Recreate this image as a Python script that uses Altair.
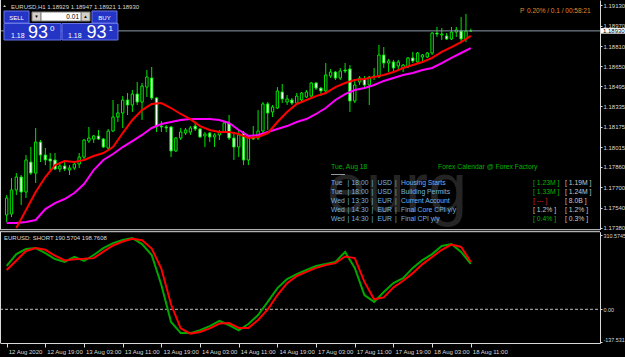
import altair as alt
import numpy as np
import pandas as pd

# ---------------- data ----------------
BARS = list(range(97))  # H1 bars, 0 = 12 Aug 2020 11:00 ... 96 = 18 Aug 11:00
OPEN = [1.17481, 1.17489, 1.17678, 1.17780, 1.17662, 1.17898, 1.17811, 1.18055, 1.17953, 1.17922,
        1.17914, 1.17843, 1.17867, 1.17835, 1.17851, 1.17882, 1.17937, 1.18063, 1.18079, 1.18103,
        1.18079, 1.18008, 1.18142, 1.18252, 1.18284, 1.18386, 1.18347, 1.18433, 1.18370, 1.18488,
        1.18559, 1.18402, 1.18181, 1.18174, 1.18174, 1.17985, 1.18087, 1.18126, 1.18134, 1.18181,
        1.18158, 1.18103, 1.18126, 1.18095, 1.18111, 1.18134, 1.18205, 1.18087, 1.18016, 1.18126,
        1.17914, 1.18095, 1.18087, 1.18142, 1.18355, 1.18292, 1.18323, 1.18449, 1.18370, 1.18386,
        1.18362, 1.18386, 1.18410, 1.18417, 1.18520, 1.18480, 1.18457, 1.18575, 1.18606, 1.18559,
        1.18622, 1.18630, 1.18378, 1.18528, 1.18551, 1.18504, 1.18567, 1.18567, 1.18740, 1.18677,
        1.18685, 1.18654, 1.18638, 1.18646, 1.18717, 1.18685, 1.18724, 1.18724, 1.18756, 1.18913,
        1.18898, 1.18890, 1.18866, 1.18921, 1.18929, 1.18866, 1.18929]
HIGH = [1.17638, 1.17772, 1.17811, 1.17796, 1.17953, 1.18016, 1.18166, 1.18071, 1.18008, 1.17969,
        1.17969, 1.17898, 1.17898, 1.17874, 1.17906, 1.17969, 1.18079, 1.18174, 1.18111, 1.18150,
        1.18087, 1.18158, 1.18386, 1.18355, 1.18417, 1.18441, 1.18465, 1.18528, 1.18520, 1.18622,
        1.18646, 1.18410, 1.18221, 1.18189, 1.18181, 1.18095, 1.18166, 1.18166, 1.18181, 1.18205,
        1.18166, 1.18134, 1.18134, 1.18126, 1.18150, 1.18221, 1.18268, 1.18134, 1.18150, 1.18142,
        1.18103, 1.18181, 1.18307, 1.18370, 1.18370, 1.18347, 1.18488, 1.18512, 1.18425, 1.18402,
        1.18441, 1.18449, 1.18465, 1.18528, 1.18528, 1.18488, 1.18677, 1.18630, 1.18614, 1.18638,
        1.18677, 1.18661, 1.18551, 1.18575, 1.18575, 1.18575, 1.18638, 1.18819, 1.18803, 1.18709,
        1.18701, 1.18701, 1.18669, 1.18724, 1.18764, 1.18764, 1.18748, 1.18764, 1.18921, 1.18961,
        1.18953, 1.18913, 1.18961, 1.18961, 1.19039, 1.19063, 1.18947]
LOW = [1.17426, 1.17465, 1.17638, 1.17560, 1.17615, 1.17796, 1.17733, 1.17898, 1.17874, 1.17835,
       1.17835, 1.17819, 1.17827, 1.17796, 1.17835, 1.17851, 1.17922, 1.18048, 1.18048, 1.18071,
       1.18008, 1.18000, 1.18134, 1.18213, 1.18166, 1.18268, 1.18292, 1.18347, 1.18229, 1.18410,
       1.18386, 1.18134, 1.18134, 1.18134, 1.17937, 1.17977, 1.18071, 1.18111, 1.18111, 1.18142,
       1.18087, 1.18016, 1.18055, 1.18016, 1.18071, 1.18126, 1.18071, 1.17914, 1.17937, 1.17874,
       1.17874, 1.18071, 1.18071, 1.18126, 1.18150, 1.18252, 1.18315, 1.18362, 1.18347, 1.18347,
       1.18347, 1.18370, 1.18402, 1.18410, 1.18465, 1.18417, 1.18449, 1.18559, 1.18543, 1.18543,
       1.18598, 1.18292, 1.18362, 1.18504, 1.18480, 1.18347, 1.18543, 1.18559, 1.18638, 1.18606,
       1.18606, 1.18622, 1.18606, 1.18638, 1.18677, 1.18677, 1.18685, 1.18717, 1.18740, 1.18882,
       1.18858, 1.18858, 1.18858, 1.18882, 1.18842, 1.18842, 1.18921]
CLOSE = [1.17615, 1.17678, 1.17780, 1.17662, 1.17914, 1.17811, 1.18055, 1.17953, 1.17914, 1.17906,
         1.17843, 1.17867, 1.17843, 1.17851, 1.17882, 1.17937, 1.18071, 1.18087, 1.18103, 1.18079,
         1.18016, 1.18142, 1.18252, 1.18284, 1.18386, 1.18347, 1.18433, 1.18370, 1.18496, 1.18567,
         1.18402, 1.18174, 1.18174, 1.18166, 1.17985, 1.18087, 1.18134, 1.18150, 1.18166, 1.18158,
         1.18095, 1.18118, 1.18095, 1.18111, 1.18134, 1.18205, 1.18087, 1.18016, 1.18111, 1.17914,
         1.18095, 1.18079, 1.18142, 1.18355, 1.18284, 1.18331, 1.18457, 1.18394, 1.18394, 1.18362,
         1.18417, 1.18441, 1.18449, 1.18520, 1.18480, 1.18457, 1.18583, 1.18606, 1.18559, 1.18614,
         1.18614, 1.18378, 1.18504, 1.18559, 1.18504, 1.18567, 1.18575, 1.18740, 1.18677, 1.18693,
         1.18638, 1.18685, 1.18661, 1.18717, 1.18693, 1.18756, 1.18740, 1.18756, 1.18913, 1.18905,
         1.18905, 1.18866, 1.18921, 1.18937, 1.18866, 1.18929, 1.18930]

MA_RED_BARS = list(range(2, 97, 2))
MA_RED = [1.17379, 1.17520, 1.17662, 1.17780, 1.17874, 1.17906, 1.17898, 1.17914, 1.17945, 1.17969,
          1.18016, 1.18126, 1.18229, 1.18307, 1.18355, 1.18362, 1.18323, 1.18276, 1.18236, 1.18181,
          1.18150, 1.18134, 1.18134, 1.18118, 1.18087, 1.18095, 1.18126, 1.18213, 1.18292, 1.18355,
          1.18386, 1.18417, 1.18441, 1.18488, 1.18520, 1.18543, 1.18551, 1.18567, 1.18583, 1.18606,
          1.18638, 1.18661, 1.18685, 1.18717, 1.18764, 1.18803, 1.18842, 1.18890]
MA_MAG_BARS = list(range(0, 97, 2))
MA_MAG = [1.17418, 1.17418, 1.17426, 1.17442, 1.17528, 1.17575, 1.17607, 1.17654, 1.17725, 1.17835,
          1.17914, 1.17961, 1.18016, 1.18063, 1.18111, 1.18166, 1.18197, 1.18213, 1.18229, 1.18236,
          1.18236, 1.18236, 1.18229, 1.18205, 1.18150, 1.18103, 1.18111, 1.18134, 1.18158, 1.18181,
          1.18213, 1.18236, 1.18276, 1.18323, 1.18386, 1.18433, 1.18465, 1.18480, 1.18504, 1.18536,
          1.18559, 1.18583, 1.18598, 1.18622, 1.18638, 1.18677, 1.18717, 1.18756, 1.18795]

OSC_BARS = list(range(0, 97, 2))
OSC_GREEN = [182, 232, 253, 257, 236, 211, 199, 220, 203, 228, 257, 278, 291, 299, 274, 228, 102, -53,
             -100, -100, -88, -71, -49, -66, -88, -62, -24, 31, 89, 127, 148, 165, 182, 190, 199, 241,
             174, 60, 31, 73, 110, 131, 174, 207, 232, 266, 274, 241, 190.5704]
OSC_RED = [165, 205, 245, 257, 250, 225, 205, 210, 212, 215, 242, 268, 285, 296, 290, 255, 170, 20,
           -80, -102, -95, -80, -60, -58, -78, -78, -45, 0, 60, 110, 140, 157, 174, 186, 194, 222,
           215, 115, 42, 50, 92, 120, 152, 190, 220, 250, 272, 262, 198.7608]

TIME_TICKS = list(range(0, 97, 8))
TIME_LABELS = ['12 Aug 2020', '12 Aug 19:00', '13 Aug 03:00', '13 Aug 11:00', '13 Aug 19:00',
               '14 Aug 03:00', '14 Aug 11:00', '14 Aug 19:00', '17 Aug 03:00', '17 Aug 11:00',
               '17 Aug 19:00', '18 Aug 03:00', '18 Aug 11:00']
PRICE_TICKS = [1.19130, 1.18970, 1.18810, 1.18650, 1.18495, 1.18335, 1.18175, 1.18015, 1.17860,
               1.17700, 1.17540, 1.17380]
OSC_TICKS = [310.5745, 0.0, -137.531]
BID = 1.18930

HEADER = 'EURUSD,H1  1.18929 1.18947 1.18921 1.18930'
OSC_TITLE = 'EURUSD: SHORT 190.5704 198.7608'
STATUS = '0.20% / 0.1 / 00:58:21'
LOT = '0.01'

CAL_TITLE = 'Tue, Aug 18'
CAL_SOURCE = 'Forex Calendar @ Forex Factory'
CAL_DAY = ['Tue', 'Tue', 'Wed', 'Wed', 'Wed']
CAL_TIME = ['18:00', '18:00', '13:30', '14:30', '14:30']
CAL_CUR = ['USD', 'USD', 'EUR', 'EUR', 'EUR']
CAL_EVENT = ['Housing Starts', 'Building Permits', 'Current Account', 'Final Core CPI y/y', 'Final CPI y/y']
CAL_FCST = ['[ 1.23M ]', '[ 1.33M ]', '[ --- ]', '[ 1.2% ]', '[ 0.4% ]']
CAL_FCST_STATE = ['up', 'up', 'down', 'same', 'up']
CAL_PREV = ['[ 1.19M ]', '[ 1.24M ]', '[ 8.0B ]', '[ 1.2% ]', '[ 0.3% ]']

# ---------------- styles ----------------
F = 'Liberation Sans'
AX = '#d9d9d9'
GREEN = '#00e600'
W, H = 600, 343

x_scale = alt.Scale(domain=[-0.346, 121.69], nice=False, zero=False)
p_scale = alt.Scale(domain=[1.17367, 1.19173], range=[229.5, 0], nice=False, zero=False)
o_scale = alt.Scale(domain=[-141.5, 326.0], range=[343, 231.7], nice=False, zero=False)

time_expr = '[' + ','.join("'%s'" % t for t in TIME_LABELS) + '][round(datum.value / 8)]'
x_axis = alt.Axis(values=TIME_TICKS, labelExpr=time_expr, orient='bottom', title=None, grid=False,
                  labelAlign='left', labelBaseline='top', labelFont=F, labelFontSize=6,
                  labelColor=AX, labelPadding=1, labelOffset=1.5, labelFlush=False,
                  labelOverlap=False, tickColor=AX, tickSize=4, domainColor=AX)
p_axis = alt.Axis(values=PRICE_TICKS, format='.5f', orient='right', title=None, grid=False,
                  labelFont=F, labelFontSize=6, labelColor=AX, labelPadding=1, labelFlush=False,
                  labelOverlap=False, tickColor=AX, tickSize=2, domainColor=AX)
o_axis = alt.Axis(values=OSC_TICKS, orient='right', title=None, grid=False,
                  labelExpr="datum.value == 0 ? '0.00' : toString(datum.value)",
                  labelBaseline={'condition': {'test': 'datum.value < 0', 'value': 'bottom'},
                                 'value': 'middle'},
                  labelFont=F, labelFontSize=5.4, labelColor=AX, labelPadding=1, labelFlush=False,
                  labelOverlap=False, tickColor=AX, tickSize=2, domainColor=AX)

XE = alt.X('bar:Q', scale=x_scale, axis=x_axis)
one = pd.DataFrame({'k': [0]})


def rect(x1, y1, x2, y2, fill, stroke=None, sw=1.0):
    kw = dict(fill=fill)
    if stroke:
        kw.update(stroke=stroke, strokeWidth=sw)
    else:
        kw.update(strokeWidth=0)
    return alt.Chart(one).mark_rect(**kw).encode(
        x=alt.value(x1), x2=alt.value(x2), y=alt.value(y1), y2=alt.value(y2))


def txt(s, x, y, size, color, align='left', baseline='middle', weight='normal'):
    return alt.Chart(one).mark_text(text=s, align=align, baseline=baseline, font=F,
                                    fontSize=size, color=color, fontWeight=weight).encode(
        x=alt.value(x), y=alt.value(y))


def hline(x1, x2, y, color, sw=1.0):
    return alt.Chart(one).mark_rule(color=color, strokeWidth=sw).encode(
        x=alt.value(x1), x2=alt.value(x2), y=alt.value(y))


def vline(x, y1, y2, color, sw=1.0):
    return alt.Chart(one).mark_rule(color=color, strokeWidth=sw).encode(
        x=alt.value(x), y=alt.value(y1), y2=alt.value(y2))


layers = []

# watermark behind everything
layers.append(txt('eurg', 327, 212, 70, '#242424', baseline='alphabetic'))

# ---- price panel ----
cdf = pd.DataFrame({'bar': BARS, 'open': OPEN, 'high': HIGH, 'low': LOW, 'close': CLOSE})
cdf['top'] = cdf[['open', 'close']].max(axis=1)
cdf['bot'] = cdf[['open', 'close']].min(axis=1)
cdf['fill'] = np.where(cdf['close'] >= cdf['open'], 'black', 'white')

layers.append(alt.Chart(cdf).mark_rule(color=GREEN, strokeWidth=1).encode(
    x=XE, y=alt.Y('high:Q', scale=p_scale, axis=p_axis), y2='low:Q'))
layers.append(alt.Chart(cdf).mark_bar(size=2.4, stroke=GREEN, strokeWidth=1).encode(
    x=XE, y=alt.Y('top:Q', scale=p_scale, axis=None), y2='bot:Q',
    fill=alt.Fill('fill:N', scale=None)))

rdf = pd.DataFrame({'bar': MA_RED_BARS, 'v': MA_RED})
mdf = pd.DataFrame({'bar': MA_MAG_BARS, 'v': MA_MAG})
layers.append(alt.Chart(mdf).mark_line(color='#ff00ff', strokeWidth=2).encode(
    x=XE, y=alt.Y('v:Q', scale=p_scale, axis=None)))
layers.append(alt.Chart(rdf).mark_line(color='#ff0000', strokeWidth=2).encode(
    x=XE, y=alt.Y('v:Q', scale=p_scale, axis=None)))

cur = pd.DataFrame({'p': [BID], 'lo': [BID - 0.00022], 'hi': [BID + 0.00022]})
layers.append(alt.Chart(cur).mark_rule(color='#8c9aac', strokeWidth=1).encode(
    x=alt.value(0), x2=alt.value(W), y=alt.Y('p:Q', scale=p_scale, axis=None)))

# ---- oscillator panel ----
odf = pd.DataFrame({'bar': OSC_BARS, 'g': OSC_GREEN, 'r': OSC_RED})
zero = pd.DataFrame({'v': [0.0]})
layers.append(alt.Chart(zero).mark_rule(color='#bfbfbf', strokeWidth=1, strokeDash=[3, 2]).encode(
    x=alt.value(0), x2=alt.value(W), y=alt.Y('v:Q', scale=o_scale, axis=None)))
layers.append(alt.Chart(odf).mark_line(color='#00a800', strokeWidth=2).encode(
    x=XE, y=alt.Y('g:Q', scale=o_scale, axis=o_axis)))
layers.append(alt.Chart(odf).mark_line(color='#ff0000', strokeWidth=2).encode(
    x=XE, y=alt.Y('r:Q', scale=o_scale, axis=None)))

# frames
layers.append(vline(0.5, 0, 229.7, AX))
layers.append(vline(0.5, 231.7, H, AX))
layers.append(hline(0, W, 229.7, AX))
layers.append(hline(0, W, 231.7, AX))

# current price box on the right axis
layers.append(alt.Chart(cur).mark_rect(fill='white').encode(
    x=alt.value(601), x2=alt.value(625), y=alt.Y('hi:Q', scale=p_scale, axis=None), y2='lo:Q'))
layers.append(alt.Chart(cur).mark_text(font=F, fontSize=6, color='black', align='left').encode(
    x=alt.value(603), y=alt.Y('p:Q', scale=p_scale, axis=None), text=alt.Text('p:Q', format='.5f')))

# ---- texts ----
layers.append(txt('\u25b2', 2.5, 6, 4, AX))
layers.append(txt(HEADER, 11, 6.5, 6, AX))
layers.append(txt('P', 520, 11, 6.5, '#e08a2a'))
layers.append(txt(STATUS, 527, 11, 6.5, '#e08a2a'))
layers.append(txt(OSC_TITLE, 4, 237.5, 6, AX))

# one-click trading panel
BLUE = '#2434c4'
BLUE_EDGE = '#6674e6'
layers.append(rect(4, 11, 29, 23, BLUE, BLUE_EDGE))
layers.append(rect(92, 11, 117, 23, BLUE, BLUE_EDGE))
layers.append(rect(32, 12, 41, 21, '#d4d0c8', '#808080'))
layers.append(rect(81, 12, 90, 21, '#d4d0c8', '#808080'))
layers.append(rect(41, 12, 81, 21, 'white', '#808080'))
layers.append(rect(4, 23.5, 61, 40, BLUE, BLUE_EDGE))
layers.append(rect(62, 23.5, 118, 40, BLUE, BLUE_EDGE))
layers.append(txt('SELL', 16.5, 17.5, 6, 'white', align='center'))
layers.append(txt('BUY', 104.5, 17.5, 6, 'white', align='center'))
layers.append(txt('\u25bc', 36.5, 16.8, 4.5, 'black', align='center'))
layers.append(txt('\u25b2', 85.5, 16.5, 4.5, 'black', align='center'))
layers.append(txt(LOT, 79, 16.8, 6.5, 'black', align='right'))
layers.append(txt('1.18', 11, 37.5, 7, 'white', baseline='alphabetic'))
layers.append(txt('93', 28, 38.3, 18, 'white', baseline='alphabetic'))
layers.append(txt('0', 50, 30.5, 8, 'white', baseline='alphabetic'))
layers.append(txt('1.18', 68, 37.5, 7, 'white', baseline='alphabetic'))
layers.append(txt('93', 86.5, 38.3, 18, 'white', baseline='alphabetic'))
layers.append(txt('1', 108.5, 30.5, 8, 'white', baseline='alphabetic'))

# calendar overlay
CAL_GREEN = '#00b400'
CAL_BLUE = '#6fb3e8'
CAL_GRAY = '#c8c8c8'
STATE_COL = {'up': '#00b400', 'down': '#e02020', 'same': '#c8c8c8'}
layers.append(txt(CAL_TITLE, 331, 167.3, 6.8, CAL_GREEN))
layers.append(txt(CAL_SOURCE, 438, 167.3, 6.8, CAL_GREEN))
layers.append(hline(331, 345, 174.5, '#bfbfbf', 0.8))
COL_X = [331, 347.5, 351.5, 371.5, 377.5, 395, 401, 533, 565]
rows = []
for i in range(len(CAL_DAY)):
    y = 183.3 + 8.95 * i
    cells = [(CAL_DAY[i], CAL_BLUE), ('|', CAL_BLUE), (CAL_TIME[i], CAL_BLUE), ('|', CAL_BLUE),
             (CAL_CUR[i], CAL_BLUE), ('|', CAL_BLUE), (CAL_EVENT[i], CAL_BLUE),
             (CAL_FCST[i], STATE_COL[CAL_FCST_STATE[i]]), (CAL_PREV[i], CAL_GRAY)]
    for (t, c), x in zip(cells, COL_X):
        rows.append({'t': t, 'c': c, 'x': x, 'y': y})
caldf = pd.DataFrame(rows)
layers.append(alt.Chart(caldf).mark_text(font=F, fontSize=6.8, align='left', baseline='middle').encode(
    x=alt.X('x:Q', scale=None), y=alt.Y('y:Q', scale=None), text='t:N',
    color=alt.Color('c:N', scale=None)))

chart = alt.layer(*layers).resolve_scale(y='independent').properties(
    width=W, height=H,
    padding={'left': 0, 'top': 0, 'right': 25, 'bottom': 14},
    autosize=alt.AutoSizeParams(type='none'),
    background='black',
).configure_view(stroke=None)

chart.save('out.html', embed_options={'renderer': 'svg', 'actions': False})
